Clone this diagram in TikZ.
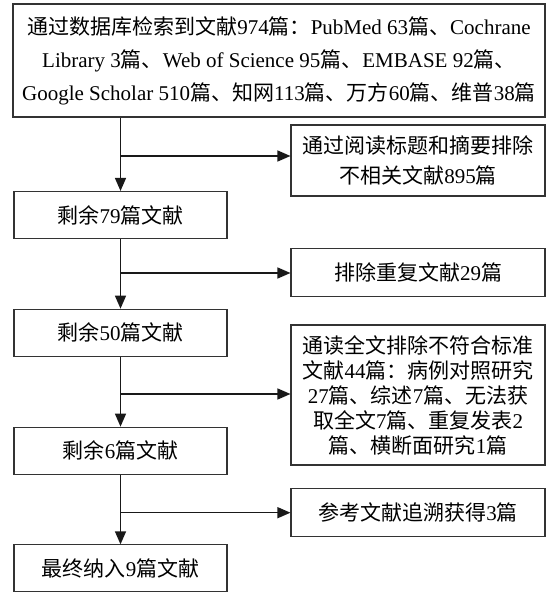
\documentclass[tikz,border=0pt]{standalone}
\usepackage{fontspec}
\setmainfont{Liberation Serif}
\newfontfamily\cjk{Noto Sans CJK SC}
\usetikzlibrary{arrows.meta}
\newcommand\zh[1]{{\cjk #1}}
\begin{document}
\begin{tikzpicture}[x=1pt,y=-1pt,
  box/.style={draw=black!80, line width=1.1pt, inner sep=0pt, align=center,
    font=\fontsize{21}{25}\selectfont},
  lbox/.style={box, minimum width=213pt, minimum height=47pt},
  rbox/.style={box, minimum width=254pt},
  arr/.style={line width=1.4pt, draw=black!90, -{Triangle[length=13pt,width=11pt]}}]
\useasboundingbox (0,0) rectangle (550,593);
\node[box, minimum width=532pt, minimum height=113pt, font=\fontsize{21}{33}\selectfont] (top) at (279,60.5)
  {\zh{通过数据库检索到文献}974\zh{篇：}PubMed 63\zh{篇、}Cochrane\\
   Library 3\zh{篇、}Web of Science 95\zh{篇、}EMBASE 92\zh{篇、}\\
   Google Scholar 510\zh{篇、知网}113\zh{篇、万方}60\zh{篇、维普}38\zh{篇}};
\node[rbox, minimum height=71pt, font=\fontsize{21}{30}\selectfont] (ex1) at (418,160.5)
  {\zh{通过阅读标题和摘要排除}\\\zh{不相关文献}895\zh{篇}};
\node[lbox] (r79) at (120.5,215) {\zh{剩余}79\zh{篇文献}};
\node[rbox, minimum height=48pt] (ex2) at (418,272.5) {\zh{排除重复文献}29\zh{篇}};
\node[lbox] (r50) at (120.5,332.7) {\zh{剩余}50\zh{篇文献}};
\node[rbox, minimum height=140pt] (ex3) at (418,395)
  {\zh{通读全文排除不符合标准}\\\zh{文献}44\zh{篇：病例对照研究}\\27\zh{篇、综述}7\zh{篇、无法获}\\\zh{取全文}7\zh{篇、重复发表}2\\\zh{篇、横断面研究}1\zh{篇}};
\node[lbox] (r6) at (120.5,450.7) {\zh{剩余}6\zh{篇文献}};
\node[rbox, minimum height=48pt] (add) at (418,512.4) {\zh{参考文献追溯获得}3\zh{篇}};
\node[lbox] (fin) at (120.5,568.4) {\zh{最终纳入}9\zh{篇文献}};
\coordinate (j1) at (120.5,156);
\coordinate (j2) at (120.5,273);
\coordinate (j3) at (120.5,394);
\coordinate (j4) at (120.5,512.7);
\draw[arr] (top.south -| r79.north) -- (r79.north);
\draw[arr] (j1) -- (j1 -| ex1.west);
\draw[arr] (r79.south) -- (r50.north);
\draw[arr] (j2) -- (j2 -| ex2.west);
\draw[arr] (r50.south) -- (r6.north);
\draw[arr] (j3) -- (j3 -| ex3.west);
\draw[arr] (r6.south) -- (fin.north);
\draw[arr] (j4) -- (j4 -| add.west);
\end{tikzpicture}
\end{document}
